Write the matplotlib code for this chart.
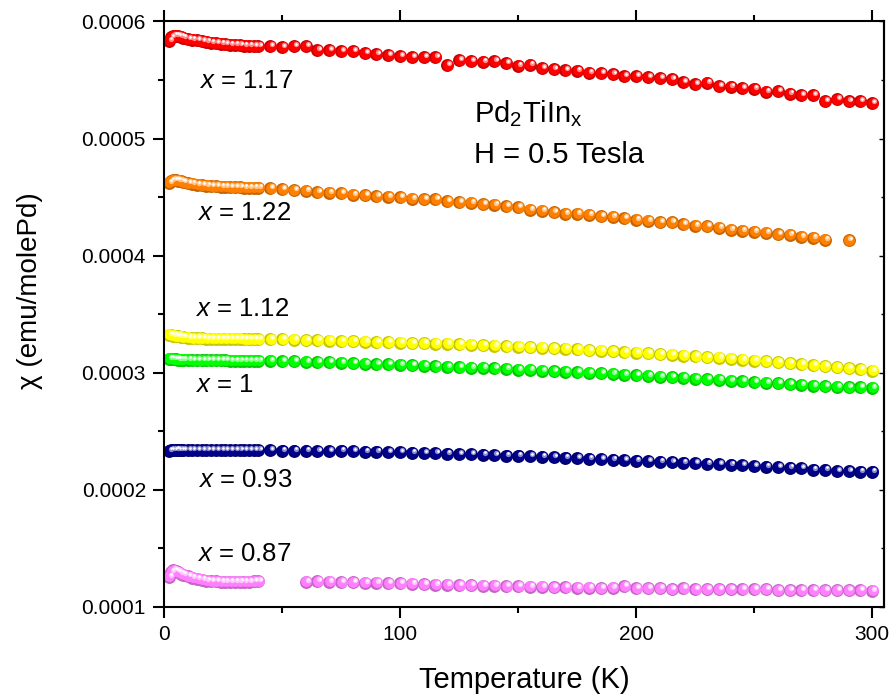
import numpy as np
import matplotlib
matplotlib.use("Agg")
import matplotlib.pyplot as plt
from matplotlib import transforms
from matplotlib import colors as mcolors
from matplotlib.ticker import MultipleLocator, FuncFormatter

plt.rcParams["font.family"] = ["Liberation Sans", "DejaVu Sans"]
plt.rcParams["mathtext.fontset"] = "custom"
plt.rcParams["mathtext.rm"] = "Liberation Sans"
plt.rcParams["mathtext.it"] = "Liberation Sans:italic"

# ---------------------------------------------------------------------------
# Susceptibility data, chi in units of 1e-4 emu/molePd
# ---------------------------------------------------------------------------
SCALE = 1e-4

T_LOW = [2, 3, 4, 5, 6, 7, 8, 10, 12, 14, 16, 18, 20, 22, 24, 26, 28, 30,
         32, 34, 36, 38, 40]
T_HIGH = [45, 50, 55, 60, 65, 70, 75, 80, 85, 90, 95, 100, 105, 110, 115,
          120, 125, 130, 135, 140, 145, 150, 155, 160, 165, 170, 175, 180,
          185, 190, 195, 200, 205, 210, 215, 220, 225, 230, 235, 240, 245,
          250, 255, 260, 265, 270, 275, 280, 285, 290, 295, 300]

# x = 1.17
chi_117_low = [5.836, 5.865, 5.878, 5.880, 5.874, 5.868, 5.862, 5.850, 5.843,
               5.838, 5.832, 5.826, 5.820, 5.815, 5.811, 5.807, 5.803, 5.800,
               5.797, 5.794, 5.791, 5.789, 5.787]
chi_117_high = [5.787, 5.781, 5.787, 5.787, 5.753, 5.753, 5.745, 5.747, 5.730,
                5.719, 5.713, 5.702, 5.693, 5.693, 5.693, 5.628, 5.668, 5.662,
                5.657, 5.662, 5.645, 5.623, 5.631, 5.602, 5.591, 5.585, 5.580,
                5.563, 5.557, 5.551, 5.534, 5.534, 5.523, 5.517, 5.506, 5.483,
                5.466, 5.478, 5.449, 5.444, 5.432, 5.427, 5.398, 5.404, 5.381,
                5.370, 5.370, 5.318, 5.336, 5.318, 5.318, 5.301]

# x = 1.22
chi_122_low = [4.623, 4.640, 4.646, 4.645, 4.640, 4.634, 4.628, 4.620, 4.613,
               4.607, 4.602, 4.598, 4.595, 4.592, 4.589, 4.587, 4.585, 4.584,
               4.583, 4.582, 4.581, 4.580, 4.580]
T_122_high = [45, 50, 55, 60, 65, 70, 75, 80, 85, 90, 95, 100, 105, 110, 115,
              120, 125, 130, 135, 140, 145, 150, 155, 160, 165, 170, 175, 180,
              185, 190, 195, 200, 205, 210, 215, 220, 225, 230, 235, 240, 245,
              250, 255, 260, 265, 270, 275, 280, 290]
chi_122_high = [4.578, 4.566, 4.560, 4.555, 4.543, 4.538, 4.532, 4.520, 4.515,
                4.509, 4.503, 4.498, 4.486, 4.481, 4.481, 4.464, 4.458, 4.452,
                4.441, 4.435, 4.424, 4.413, 4.393, 4.382, 4.371, 4.359, 4.359,
                4.348, 4.337, 4.331, 4.320, 4.308, 4.297, 4.286, 4.286, 4.268,
                4.257, 4.251, 4.240, 4.222, 4.211, 4.205, 4.194, 4.183, 4.177,
                4.160, 4.154, 4.137, 4.132]

# x = 1.12
chi_112_low = [3.325, 3.322, 3.318, 3.314, 3.310, 3.307, 3.304, 3.300, 3.297,
               3.295, 3.293, 3.292, 3.291, 3.290, 3.290, 3.289, 3.289, 3.289,
               3.289, 3.288, 3.288, 3.288, 3.288]
chi_112_high = [3.287, 3.285, 3.282, 3.280, 3.276, 3.274, 3.271, 3.268, 3.265,
                3.262, 3.259, 3.257, 3.254, 3.251, 3.249, 3.246, 3.242, 3.238,
                3.235, 3.231, 3.227, 3.222, 3.218, 3.214, 3.209, 3.204, 3.199,
                3.194, 3.188, 3.183, 3.177, 3.172, 3.166, 3.160, 3.153, 3.147,
                3.140, 3.134, 3.127, 3.120, 3.112, 3.105, 3.097, 3.090, 3.082,
                3.073, 3.065, 3.057, 3.048, 3.039, 3.030, 3.016]

# x = 1
chi_100_low = [3.118, 3.118, 3.116, 3.114, 3.113, 3.112, 3.111, 3.110, 3.109,
               3.108, 3.108, 3.107, 3.107, 3.106, 3.106, 3.106, 3.105, 3.105,
               3.105, 3.104, 3.104, 3.104, 3.104]
chi_100_high = [3.102, 3.100, 3.097, 3.094, 3.091, 3.088, 3.085, 3.081, 3.078,
                3.075, 3.071, 3.068, 3.064, 3.061, 3.057, 3.053, 3.049, 3.045,
                3.041, 3.037, 3.033, 3.028, 3.024, 3.019, 3.015, 3.010, 3.005,
                3.000, 2.995, 2.990, 2.985, 2.979, 2.974, 2.968, 2.963, 2.957,
                2.951, 2.945, 2.939, 2.933, 2.927, 2.921, 2.915, 2.909, 2.903,
                2.897, 2.891, 2.886, 2.882, 2.878, 2.875, 2.872]

# x = 0.93
chi_093_low = [2.333, 2.337, 2.340, 2.341, 2.340, 2.339, 2.339, 2.338, 2.338,
               2.338, 2.338, 2.337, 2.337, 2.337, 2.337, 2.337, 2.337, 2.337,
               2.337, 2.337, 2.337, 2.337, 2.337]
chi_093_high = [2.337, 2.335, 2.334, 2.334, 2.331, 2.330, 2.336, 2.328, 2.326,
                2.324, 2.322, 2.320, 2.317, 2.314, 2.312, 2.309, 2.306, 2.303,
                2.300, 2.297, 2.293, 2.290, 2.286, 2.283, 2.279, 2.275, 2.271,
                2.267, 2.263, 2.259, 2.255, 2.251, 2.246, 2.242, 2.237, 2.233,
                2.228, 2.223, 2.219, 2.214, 2.209, 2.204, 2.199, 2.194, 2.189,
                2.184, 2.173, 2.172, 2.161, 2.159, 2.157, 2.155]

# x = 0.87
chi_087_low = [1.258, 1.300, 1.315, 1.305, 1.295, 1.285, 1.275, 1.262, 1.250,
               1.240, 1.232, 1.226, 1.221, 1.218, 1.216, 1.215, 1.215, 1.214,
               1.214, 1.215, 1.216, 1.218, 1.221]
T_087_high = [60, 65, 70, 75, 80, 85, 90, 95, 100, 105, 110, 115, 120, 125,
              130, 135, 140, 145, 150, 155, 160, 165, 170, 175, 180, 185, 190,
              195, 200, 205, 210, 215, 220, 225, 230, 235, 240, 245, 250, 255,
              260, 265, 270, 275, 280, 285, 290, 295, 300]
chi_087_high = [1.216, 1.221, 1.214, 1.212, 1.210, 1.208, 1.206, 1.204, 1.202,
                1.199, 1.196, 1.192, 1.188, 1.186, 1.184, 1.182, 1.180, 1.178,
                1.176, 1.174, 1.172, 1.170, 1.168, 1.166, 1.163, 1.159, 1.165,
                1.179, 1.159, 1.159, 1.159, 1.153, 1.159, 1.153, 1.150, 1.150,
                1.153, 1.150, 1.150, 1.150, 1.145, 1.145, 1.145, 1.145, 1.145,
                1.145, 1.145, 1.145, 1.139]

SERIES = [
    ("1.17", T_LOW + T_HIGH, chi_117_low + chi_117_high, "#FF0000"),
    ("1.22", T_LOW + T_122_high, chi_122_low + chi_122_high, "#FF8000"),
    ("1.12", T_LOW + T_HIGH, chi_112_low + chi_112_high, "#FFFF00"),
    ("1", T_LOW + T_HIGH, chi_100_low + chi_100_high, "#00FF00"),
    ("0.93", T_LOW + T_HIGH, chi_093_low + chi_093_high, "#00008B"),
    ("0.87", T_LOW + T_087_high, chi_087_low + chi_087_high, "#FF80FF"),
]

# label anchor (T, chi/1e-4) for each composition
LABEL_POS = {
    "1.17": (15.0, 5.49),
    "1.22": (14.0, 4.365),
    "1.12": (13.0, 3.547),
    "1": (13.0, 2.896),
    "0.93": (14.5, 2.085),
    "0.87": (14.0, 1.453),
}

# ---------------------------------------------------------------------------
fig = plt.figure(figsize=(8.93, 6.95), dpi=100)
ax = fig.add_axes([164 / 893, 88 / 695, 720 / 893, 585.5 / 695])


def draw_spheres(ax, T, chi, color):
    """Shaded ball markers: dark rim, body, soft highlight, white glint."""
    base = np.array(mcolors.to_rgb(color))
    dark = base * 0.78
    light = base + (1 - base) * 0.55
    layers = [
        (9.3, dark, 0.0, 0.0),
        (7.8, base, 0.5, 0.5),
        (3.8, light, 1.9, 2.0),
        (1.9, (1, 1, 1), 2.1, 2.5),
    ]
    for ms, c, dx, dy in layers:
        tr = transforms.offset_copy(ax.transData, fig=ax.figure,
                                    x=dx, y=dy, units="dots")
        ax.plot(T, chi, ls="none", marker="o", ms=ms, mfc=c, mec="none",
                transform=tr, clip_on=False)


for name, T, chi, color in SERIES:
    draw_spheres(ax, np.array(T), np.array(chi) * SCALE, color)
    tx, ty = LABEL_POS[name]
    ax.text(tx, ty * SCALE, r"$\mathit{x}$ = " + name, fontsize=18.5,
            ha="left", va="center")

ax.text(131.5, 5.144 * SCALE, r"Pd$_\mathrm{2}$TiIn$_\mathrm{x}$",
        fontsize=21, ha="left", va="baseline")
ax.text(131.5, 4.789 * SCALE, "H = 0.5 Tesla", fontsize=21,
        ha="left", va="baseline")

ax.set_xlim(0, 305)
ax.set_ylim(1e-4, 6e-4)

ax.xaxis.set_major_locator(MultipleLocator(100))
ax.xaxis.set_minor_locator(MultipleLocator(50))
ax.yaxis.set_major_locator(MultipleLocator(1e-4))
ax.yaxis.set_minor_locator(MultipleLocator(5e-5))
ax.yaxis.set_major_formatter(FuncFormatter(lambda v, p: f"{v:.4f}"))

for s in ax.spines.values():
    s.set_linewidth(1.5)

ax.tick_params(axis="x", which="both", direction="out", top=True,
               labelsize=15, width=1.5, pad=5)
ax.tick_params(axis="y", which="both", direction="out", right=False,
               labelsize=15, width=1.5, pad=5)
ax.tick_params(which="major", length=8)
ax.tick_params(which="minor", length=4.5)

sec = ax.secondary_yaxis("right")
sec.yaxis.set_major_locator(MultipleLocator(1e-4))
sec.yaxis.set_minor_locator(MultipleLocator(5e-5))
sec.tick_params(which="both", direction="in", labelright=False, width=1.0)
sec.tick_params(which="major", length=3.5)
sec.tick_params(which="minor", length=2.5)
sec.spines["right"].set_linewidth(1.5)

ax.set_xlabel("Temperature (K)", fontsize=21)
ax.xaxis.set_label_coords(0.5, -0.10)
ax.set_ylabel("\u03c7 (emu/molePd)", fontsize=20)
ax.yaxis.set_label_coords(-0.168, 0.54)

fig.savefig("out.png", dpi=100)
